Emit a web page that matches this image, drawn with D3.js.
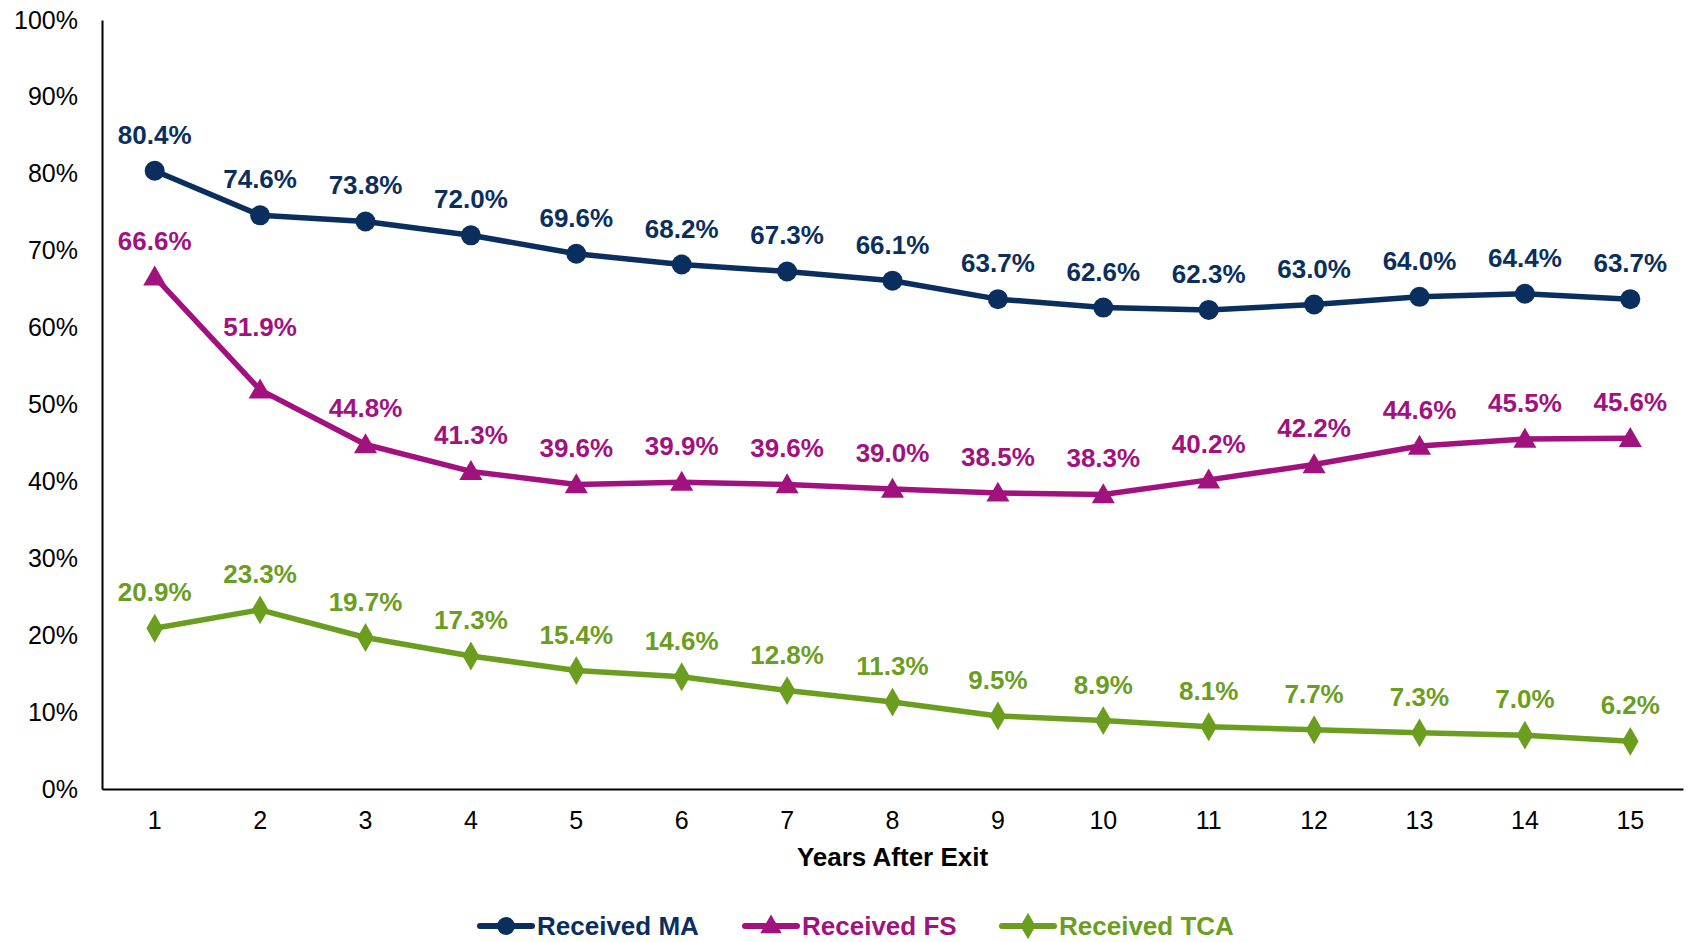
<!DOCTYPE html>
<html>
<head>
<meta charset="utf-8">
<script src="https://cdn.jsdelivr.net/npm/d3@7"></script>
<style>
  html, body { margin: 0; padding: 0; background: #fff; }
  svg { display: block; }
  text { font-family: "Liberation Sans", Arial, Helvetica, sans-serif; }
</style>
</head>
<body>
<svg id="chart" width="1688" height="942"></svg>
<script>
const years = ["1","2","3","4","5","6","7","8","9","10","11","12","13","14","15"];
const yTicks = [0, 10, 20, 30, 40, 50, 60, 70, 80, 90, 100];
const seriesNames = ["Received MA", "Received FS", "Received TCA"];
const receivedMA  = [80.4, 74.6, 73.8, 72.0, 69.6, 68.2, 67.3, 66.1, 63.7, 62.6, 62.3, 63.0, 64.0, 64.4, 63.7];
const receivedFS  = [66.6, 51.9, 44.8, 41.3, 39.6, 39.9, 39.6, 39.0, 38.5, 38.3, 40.2, 42.2, 44.6, 45.5, 45.6];
const receivedTCA = [20.9, 23.3, 19.7, 17.3, 15.4, 14.6, 12.8, 11.3, 9.5, 8.9, 8.1, 7.7, 7.3, 7.0, 6.2];
const xTitle = "Years After Exit";

(function () {
const colors = ["#0a2f5e", "#a2127f", "#6b9e1f"];
const symbols = [d3.symbolCircle, d3.symbolTriangle, d3.symbolDiamond];
const seriesValues = [receivedMA, receivedFS, receivedTCA];

const svg = d3.select("#chart");
const mLeft = 102, mRight = 1683, mTop = 20, mBottom = 789;

const x = d3.scaleBand().domain(years).range([mLeft, mRight]);
const y = d3.scaleLinear().domain([0, 100]).range([mBottom, mTop]);
const cx = d => x(d) + x.bandwidth() / 2;

// Y axis
const yAxis = svg.append("g").attr("transform", `translate(${mLeft},0)`)
  .call(d3.axisLeft(y).tickValues(yTicks).tickSize(0).tickPadding(24).tickFormat(d => d + "%"));
yAxis.select(".domain").attr("stroke", "#000").attr("stroke-width", 2);
yAxis.selectAll("text").attr("font-size", 25).attr("fill", "#000")
  .attr("font-family", "'Liberation Sans', Arial, sans-serif");

// X axis
const xAxis = svg.append("g").attr("transform", `translate(0,${mBottom})`)
  .call(d3.axisBottom(x).tickSize(0).tickPadding(22));
xAxis.select(".domain").attr("stroke", "#000").attr("stroke-width", 2);
xAxis.selectAll("text").attr("font-size", 25).attr("fill", "#000")
  .attr("font-family", "'Liberation Sans', Arial, sans-serif");

svg.append("text")
  .attr("x", (mLeft + mRight) / 2).attr("y", 866)
  .attr("text-anchor", "middle").attr("font-size", 26).attr("font-weight", "bold")
  .text(xTitle);

const line = d3.line().x((d, i) => cx(years[i])).y(d => y(d));

// Label nudge (pixels upward) for the one label that sits higher
const labelNudge = (s, i) => (s === 1 && i === 1) ? 27 : 0;

seriesValues.forEach((vals, s) => {
  const g = svg.append("g");
  g.append("path").datum(vals)
    .attr("d", line).attr("fill", "none")
    .attr("stroke", colors[s]).attr("stroke-width", 5.5).attr("stroke-linejoin", "round");
  const sym = d3.symbol().type(symbols[s]).size(s === 0 ? 314 : (s === 1 ? 230 : 240));
  g.selectAll("path.m").data(vals).join("path").attr("class", "m")
    .attr("d", sym)
    .attr("transform", (d, i) => `translate(${cx(years[i])},${y(d) + (s === 1 ? 2 : 0)})`)
    .attr("fill", colors[s]);
  g.selectAll("text").data(vals).join("text")
    .attr("x", (d, i) => cx(years[i]))
    .attr("y", (d, i) => y(d) - 27 - labelNudge(s, i))
    .attr("text-anchor", "middle").attr("font-size", 26).attr("font-weight", "bold")
    .attr("fill", colors[s])
    .text(d => d.toFixed(1) + "%");
});

// Legend
const legendX = [478, 743, 1000];
const ly = 926;
seriesNames.forEach((name, s) => {
  const lx = legendX[s];
  const g = svg.append("g");
  g.append("line").attr("x1", lx + 2).attr("x2", lx + 54).attr("y1", ly).attr("y2", ly)
    .attr("stroke", colors[s]).attr("stroke-width", 6).attr("stroke-linecap", "round");
  g.append("path").attr("d", d3.symbol().type(symbols[s]).size(s === 0 ? 250 : 200)())
    .attr("transform", `translate(${lx + 28},${ly + (s === 1 ? 1 : 0)})`).attr("fill", colors[s]);
  g.append("text").attr("x", lx + 59).attr("y", ly + 9)
    .attr("font-size", 26).attr("font-weight", "bold").attr("fill", colors[s])
    .text(name);
});
})();
</script>
</body>
</html>
